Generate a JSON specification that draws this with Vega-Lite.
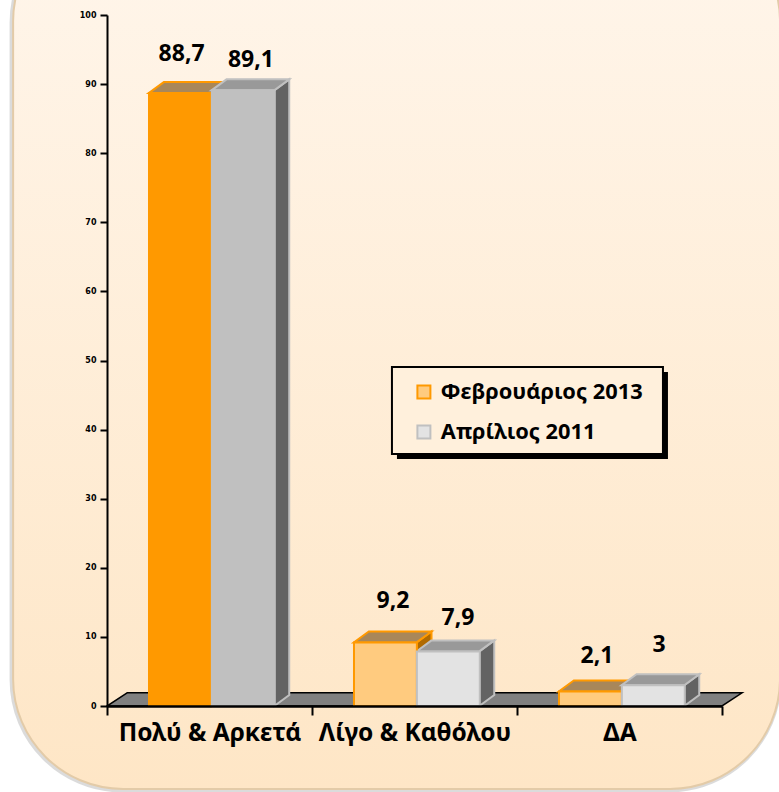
{
"$schema":"https://vega.github.io/schema/vega-lite/v6.json",
"width":615,"height":691,
"autosize":{"type":"none"},
"padding":{"left":107,"top":15,"right":57,"bottom":86},
"background":"white",
"config":{"view":{"stroke":null},"font":"Noto Sans",
 "axisY":{"grid":false,"tickCount":11,"labelFont":"DejaVu Sans","labelFontWeight":"bold","labelFontSize":8,"labelColor":"black","labelPadding":4,"domainColor":"black","domainWidth":2,"tickColor":"black","tickWidth":2,"tickSize":7}},
"datasets":{
"bars":[
{"cat":"Πολύ & Αρκετά","idx":0,"series":"Φεβρουάριος 2013","s":0,"value":88.7},
{"cat":"Πολύ & Αρκετά","idx":0,"series":"Απρίλιος 2011","s":1,"value":89.1},
{"cat":"Λίγο & Καθόλου","idx":1,"series":"Φεβρουάριος 2013","s":0,"value":9.2},
{"cat":"Λίγο & Καθόλου","idx":1,"series":"Απρίλιος 2011","s":1,"value":7.9},
{"cat":"ΔΑ","idx":2,"series":"Φεβρουάριος 2013","s":0,"value":2.1},
{"cat":"ΔΑ","idx":2,"series":"Απρίλιος 2011","s":1,"value":3}
],
"panel":[{"x":-0.458,"x2":3.283,"y":115,"y2":-12}],
"floor":[{"y":0,"a":0,"b":3},{"y":1.9,"a":0.098,"b":3.098}],
"legendBox":[{"x":1.39,"x2":2.712,"y":49.06,"y2":36.47}]
},
"data":{"name":"bars"},
"layer":[
{"data":{"name":"panel"},"mark":{"type":"rect","clip":false,"cornerRadius":110,"fill":"#8a8a8a","opacity":0.3,"stroke":"#8a8a8a","strokeWidth":5,"xOffset":-1,"x2Offset":-1,"yOffset":1,"y2Offset":1},
 "encoding":{"x":{"field":"x","type":"quantitative","scale":{"domain":[0,3]},"axis":null},"x2":{"field":"x2"},"y":{"field":"y","type":"quantitative","scale":{"domain":[0,100]},"axis":{"title":null,"zindex":1}},"y2":{"field":"y2"}}},
{"data":{"name":"panel"},"mark":{"type":"rect","clip":false,"cornerRadius":110,"stroke":"#E3CBA8","strokeWidth":2,"fill":{"gradient":"linear","x1":0,"y1":0,"x2":0,"y2":1,"stops":[{"offset":0,"color":"#FFF6EC"},{"offset":1,"color":"#FEE6C6"}]}},
 "encoding":{"x":{"field":"x","type":"quantitative","scale":{"domain":[0,3]},"axis":null},"x2":{"field":"x2"},"y":{"field":"y","type":"quantitative","scale":{"domain":[0,100]},"axis":{"title":null,"zindex":1}},"y2":{"field":"y2"}}},
{"data":{"name":"floor"},"mark":{"type":"area","orient":"horizontal","fill":"#808080","stroke":"black","strokeWidth":1.5},
 "encoding":{"y":{"field":"y","type":"quantitative","scale":{"domain":[0,100]},"axis":{"title":null,"zindex":1}},"x":{"field":"a","type":"quantitative","scale":{"domain":[0,3]},"axis":null},"x2":{"field":"b"}}},
{"data":{"name":"bars"},
 "transform":[{"filter":"datum.s===0"},{"calculate":"[0,1]","as":"t"},{"flatten":["t"]},{"calculate":"datum.idx+0.51+datum.t*0.073","as":"xr"},{"calculate":"datum.value+datum.t*1.59","as":"yt"},{"calculate":"datum.t*1.59","as":"yb"}],
 "mark":{"type":"area","fill":"#B06A00","stroke":"#FF9900","strokeWidth":2},
 "encoding":{"detail":{"field":"cat"},"x":{"field":"xr","type":"quantitative","scale":{"domain":[0,3]},"axis":null},"y":{"field":"yt","type":"quantitative","scale":{"domain":[0,100]},"axis":{"title":null,"zindex":1}},"y2":{"field":"yb"}}},
{"data":{"name":"bars"},
 "transform":[{"filter":"datum.s===0"},{"calculate":"[0,1]","as":"t"},{"flatten":["t"]},{"calculate":"datum.idx+0.51-0.306+datum.t*0.073","as":"xl"},{"calculate":"datum.xl+0.306","as":"xr"},{"calculate":"datum.value+datum.t*1.59","as":"yt"}],
 "mark":{"type":"area","orient":"horizontal","fill":"#A8875A","stroke":"#FF9900","strokeWidth":2},
 "encoding":{"detail":{"field":"cat"},"y":{"field":"yt","type":"quantitative","scale":{"domain":[0,100]},"axis":{"title":null,"zindex":1}},"x":{"field":"xl","type":"quantitative","scale":{"domain":[0,3]},"axis":null},"x2":{"field":"xr"}}},
{"data":{"name":"bars"},
 "transform":[{"filter":"datum.s===1"},{"calculate":"[0,1]","as":"t"},{"flatten":["t"]},{"calculate":"datum.idx+0.51+0.306+datum.t*0.073","as":"xr"},{"calculate":"datum.value+datum.t*1.59","as":"yt"},{"calculate":"datum.t*1.59","as":"yb"}],
 "mark":{"type":"area","fill":"#636363","stroke":"#C0C0C0","strokeWidth":2},
 "encoding":{"detail":{"field":"cat"},"x":{"field":"xr","type":"quantitative","scale":{"domain":[0,3]},"axis":null},"y":{"field":"yt","type":"quantitative","scale":{"domain":[0,100]},"axis":{"title":null,"zindex":1}},"y2":{"field":"yb"}}},
{"data":{"name":"bars"},
 "transform":[{"filter":"datum.s===1"},{"calculate":"[0,1]","as":"t"},{"flatten":["t"]},{"calculate":"datum.idx+0.51+datum.t*0.073","as":"xl"},{"calculate":"datum.xl+0.306","as":"xr"},{"calculate":"datum.value+datum.t*1.59","as":"yt"}],
 "mark":{"type":"area","orient":"horizontal","fill":"#999999","stroke":"#C0C0C0","strokeWidth":2},
 "encoding":{"detail":{"field":"cat"},"y":{"field":"yt","type":"quantitative","scale":{"domain":[0,100]},"axis":{"title":null,"zindex":1}},"x":{"field":"xl","type":"quantitative","scale":{"domain":[0,3]},"axis":null},"x2":{"field":"xr"}}},
{"data":{"name":"bars"},
 "mark":{"type":"bar","strokeWidth":2},
 "encoding":{
  "x":{"field":"cat","type":"nominal","sort":["Πολύ & Αρκετά","Λίγο & Καθόλου","ΔΑ"],"scale":{"paddingInner":0,"paddingOuter":0},
   "axis":{"title":null,"tickBand":"extent","labelAngle":0,"labelFont":"Noto Sans","labelFontWeight":"bold","labelFontSize":24.5,"labelColor":"black","labelPadding":6,"domainColor":"black","domainWidth":2.5,"tickColor":"black","tickWidth":2,"tickSize":9,"zindex":1,"labelLimit":300}},
  "xOffset":{"field":"series","type":"nominal","sort":["Φεβρουάριος 2013","Απρίλιος 2011"],"scale":{"paddingOuter":0.63,"paddingInner":0,"align":0.53}},
  "y":{"field":"value","type":"quantitative","scale":{"domain":[0,100]},"axis":{"title":null,"zindex":1}},
  "fill":{"condition":[{"test":"datum.cat==='Πολύ & Αρκετά'&&datum.s===0","value":"#FF9900"},{"test":"datum.cat==='Πολύ & Αρκετά'&&datum.s===1","value":"#C0C0C0"}],
   "field":"series","type":"nominal","scale":{"domain":["Φεβρουάριος 2013","Απρίλιος 2011"],"range":["#FFCB7F","#E3E3E3"]},
   "legend":{"title":null,"orient":"none","legendX":306,"legendY":366,"symbolType":"square","symbolSize":169,"symbolStrokeWidth":2,"symbolOpacity":1,"labelFont":"Noto Sans","labelFontWeight":"bold","labelFontSize":21.8,"labelColor":"black","labelOffset":6,"rowPadding":17,"padding":0,"labelLimit":300,"zindex":1}},
  "stroke":{"field":"series","type":"nominal","scale":{"domain":["Φεβρουάριος 2013","Απρίλιος 2011"],"range":["#FF9900","#C0C0C0"]}}
 }},
{"data":{"name":"legendBox"},"mark":{"type":"rect","fill":"black","xOffset":5,"x2Offset":5,"yOffset":5,"y2Offset":5},
 "encoding":{"x":{"field":"x","type":"quantitative","scale":{"domain":[0,3]},"axis":null},"x2":{"field":"x2"},"y":{"field":"y","type":"quantitative","scale":{"domain":[0,100]},"axis":{"title":null,"zindex":1}},"y2":{"field":"y2"}}},
{"data":{"name":"legendBox"},"mark":{"type":"rect","fill":"#FFF0DC","stroke":"black","strokeWidth":2},
 "encoding":{"x":{"field":"x","type":"quantitative","scale":{"domain":[0,3]},"axis":null},"x2":{"field":"x2"},"y":{"field":"y","type":"quantitative","scale":{"domain":[0,100]},"axis":{"title":null,"zindex":1}},"y2":{"field":"y2"}}},
{"data":{"name":"bars"},
 "transform":[
  {"calculate":"replace(''+datum.value,'.',',')","as":"label"},
  {"calculate":"datum.idx+0.51+(datum.s===0?-0.156:0.156)+{'88,7':0.01,'89,1':0.036,'9,2':0.041,'7,9':0.046,'2,1':0.036,'3':0.027}[datum.label]","as":"lx"},
  {"calculate":"datum.value+{'88,7':5.7,'89,1':4.4,'9,2':6,'7,9':4.8,'2,1':5.1,'3':5.8}[datum.label]","as":"ly"}],
 "mark":{"type":"text","font":"Noto Sans","fontWeight":"bold","fontSize":23,"color":"black","baseline":"middle","align":"center"},
 "encoding":{"x":{"field":"lx","type":"quantitative","scale":{"domain":[0,3]},"axis":null},"y":{"field":"ly","type":"quantitative","scale":{"domain":[0,100]},"axis":{"title":null,"zindex":1}},"text":{"field":"label"}}}
],
"resolve":{"scale":{"x":"independent"},"axis":{"x":"independent"}}
}
